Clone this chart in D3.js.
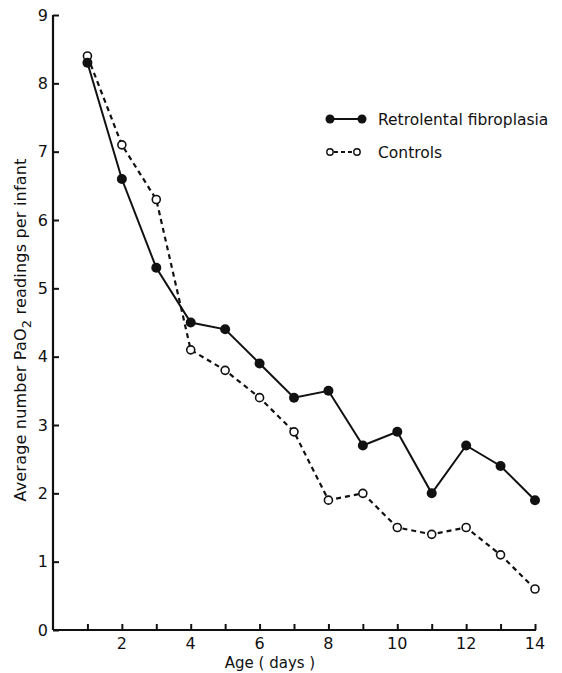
<!DOCTYPE html>
<html>
<head>
<meta charset="utf-8">
<script src="https://cdn.jsdelivr.net/npm/d3@7"></script>
<style>
  body { margin: 0; background: #fff; }
  svg text { font-family: "DejaVu Sans", sans-serif; fill: #111; }
</style>
</head>
<body>
<svg id="chart" width="562" height="673"></svg>
<script>
// values
var days = [1, 2, 3, 4, 5, 6, 7, 8, 9, 10, 11, 12, 13, 14];
var rlf = [8.3, 6.6, 5.3, 4.5, 4.4, 3.9, 3.4, 3.5, 2.7, 2.9, 2.0, 2.7, 2.4, 1.9];
var controls = [8.4, 7.1, 6.3, 4.1, 3.8, 3.4, 2.9, 1.9, 2.0, 1.5, 1.4, 1.5, 1.1, 0.6];
var yTicks = [0, 1, 2, 3, 4, 5, 6, 7, 8, 9];
var xTickLabels = [2, 4, 6, 8, 10, 12, 14];

var svg = d3.select("#chart");

var x = d3.scaleLinear().domain([0, 14]).range([53, 535]);
var y = d3.scaleLinear().domain([0, 9]).range([630, 15]);

var ink = "#111";

// y axis (ticks point inward)
var yAxis = svg.append("g")
    .attr("transform", "translate(" + x(0) + ",0)")
    .call(d3.axisRight(y).tickValues(yTicks).tickSize(6).tickFormat(""));
yAxis.select(".domain").attr("d", "M0," + y(0) + "V" + y(9)).attr("stroke", ink).attr("stroke-width", 2.2);
yAxis.selectAll(".tick line").attr("stroke", ink).attr("stroke-width", 2);

svg.append("g").selectAll("text")
    .data(yTicks)
    .enter()
    .append("text")
    .attr("x", 48)
    .attr("y", d => y(d))
    .attr("dy", "0.36em")
    .attr("text-anchor", "end")
    .style("font-size", "16px")
    .text(d => d);

// x axis (ticks point up)
var xAxis = svg.append("g")
    .attr("transform", "translate(0," + y(0) + ")")
    .call(d3.axisTop(x).tickValues(days).tickSize(6).tickFormat(""));
xAxis.select(".domain").attr("d", "M" + x(0) + ",0H" + (x(14) + 1)).attr("stroke", ink).attr("stroke-width", 2.2);
xAxis.selectAll(".tick line").attr("stroke", ink).attr("stroke-width", 2);

svg.append("g").selectAll("text")
    .data(xTickLabels)
    .enter()
    .append("text")
    .attr("x", d => x(d))
    .attr("y", 649)
    .attr("text-anchor", "middle")
    .style("font-size", "16px")
    .text(d => d);

svg.append("text")
    .attr("x", 270)
    .attr("y", 668)
    .attr("text-anchor", "middle")
    .style("font-size", "15px")
    .text("Age ( days )");

var yl = svg.append("text")
    .attr("transform", "translate(26,330) rotate(-90)")
    .attr("text-anchor", "middle")
    .style("font-size", "16px")
    .style("letter-spacing", "0.2px");
yl.append("tspan").text("Average number PaO");
yl.append("tspan").attr("dy", 5).style("font-size", "13px").text("2");
yl.append("tspan").attr("dy", -5).text(" readings per infant");

// lines
var line = d3.line()
    .x((d, i) => x(days[i]))
    .y(d => y(d));

svg.append("path")
    .datum(controls)
    .attr("d", line)
    .attr("fill", "none")
    .attr("stroke", ink)
    .attr("stroke-width", 2.2)
    .attr("stroke-dasharray", "5,4");

svg.append("path")
    .datum(rlf)
    .attr("d", line)
    .attr("fill", "none")
    .attr("stroke", ink)
    .attr("stroke-width", 2);

svg.append("g").selectAll("circle")
    .data(controls)
    .enter()
    .append("circle")
    .attr("cx", (d, i) => x(days[i]))
    .attr("cy", d => y(d))
    .attr("r", 4)
    .attr("fill", "#fff")
    .attr("stroke", ink)
    .attr("stroke-width", 1.6);

svg.append("g").selectAll("circle")
    .data(rlf)
    .enter()
    .append("circle")
    .attr("cx", (d, i) => x(days[i]))
    .attr("cy", d => y(d))
    .attr("r", 5)
    .attr("fill", ink);

// legend
var lg = svg.append("g");
lg.append("line").attr("x1", 330).attr("x2", 362).attr("y1", 119).attr("y2", 119)
    .attr("stroke", ink).attr("stroke-width", 2);
lg.selectAll("circle.f").data([330, 362]).enter().append("circle")
    .attr("cx", d => d).attr("cy", 119).attr("r", 4.5).attr("fill", ink);
lg.append("text").attr("x", 378).attr("y", 119).attr("dy", "0.36em")
    .style("font-size", "15.5px").text("Retrolental fibroplasia");

lg.append("line").attr("x1", 334).attr("x2", 354).attr("y1", 152).attr("y2", 152)
    .attr("stroke", ink).attr("stroke-width", 2).attr("stroke-dasharray", "4,3");
lg.selectAll("circle.o").data([330, 357]).enter().append("circle")
    .attr("cx", d => d).attr("cy", 152).attr("r", 3.2)
    .attr("fill", "#fff").attr("stroke", ink).attr("stroke-width", 1.4);
lg.append("text").attr("x", 378).attr("y", 152).attr("dy", "0.36em")
    .style("font-size", "15.5px").text("Controls");
</script>
</body>
</html>
